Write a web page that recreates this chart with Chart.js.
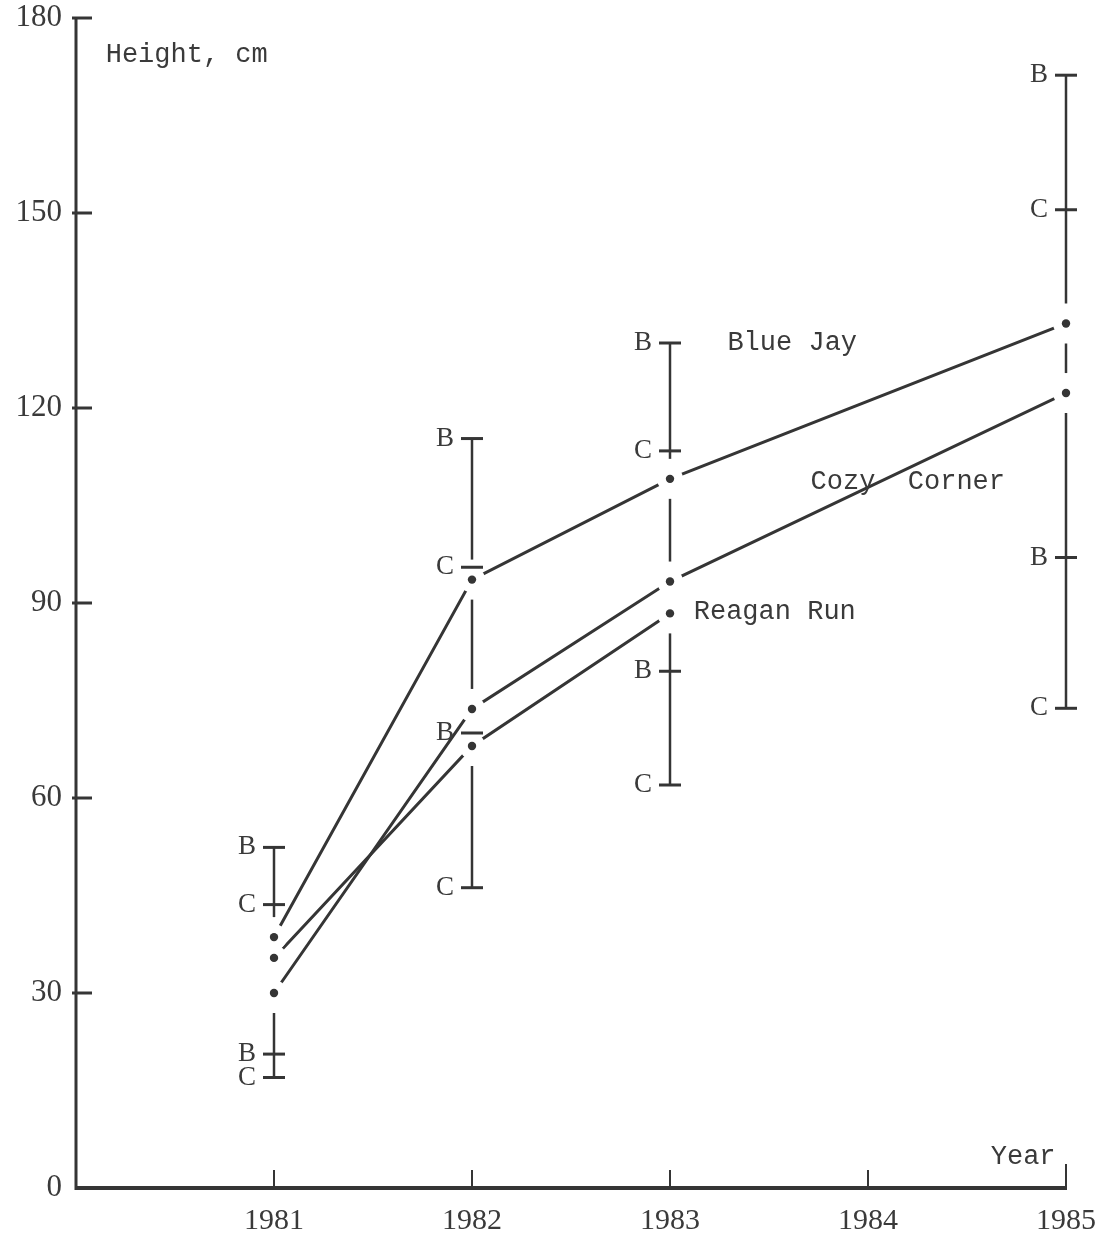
<!DOCTYPE html>
<html>
<head>
<meta charset="utf-8">
<script src="https://cdn.jsdelivr.net/npm/chart.js@4/dist/chart.umd.min.js"></script>
<style>
  html, body { margin: 0; padding: 0; background: #ffffff; }
  #wrap { width: 1104px; height: 1238px; position: relative; }
</style>
</head>
<body>
<div id="wrap"><canvas id="c"></canvas></div>
<script>
// ---- data ----
const years = [1981, 1982, 1983, 1984, 1985];
const blueJay    = [38.6, 93.6, 109.1, null, 133.0];
const cozyCorner = [30.0, 73.7, 93.3, null, 122.3];
const reaganRun  = [35.4, 68.0, 88.4, null, null];

// range bars: B and C marks above and below the means
const barYears   = [1981, 1982, 1983, 1985];
const upperB     = [52.4, 115.3, 130.0, 171.2];
const upperC     = [43.6, 95.5, 113.4, 150.5];
const lowerB     = [20.6, 70.0, 79.5, 97.0];
const lowerC     = [17.0, 46.2, 62.0, 73.8];

const yTicks = [0, 30, 60, 90, 120, 150, 180];
const xTickLabels = ['1981', '1982', '1983', '1984', '1985'];

const INK = '#353535';
const MONO = '"Liberation Mono", "DejaVu Sans Mono", monospace';
const SERIF = '"Liberation Serif", "DejaVu Serif", serif';

function pts(arr) {
  return years.map((x, i) => ({ x: x, y: arr[i] })).filter(p => p.y !== null);
}

// annotation text placed in data coordinates
const notes = [
  { text: 'Height, cm',   x: 1980.15, y: 174.4 },
  { text: 'Blue Jay',     x: 1983.29, y: 130.0 },
  { text: 'Cozy  Corner', x: 1983.71, y: 108.6 },
  { text: 'Reagan Run',   x: 1983.12, y: 88.7 },
  { text: 'Year',         x: 1984.62, y: 4.8 }
];

const drawPlugin = {
  id: 'handDrawn',
  beforeDatasetsDraw(chart) {
    const ctx = chart.ctx, xs = chart.scales.x, ys = chart.scales.y;
    const area = chart.chartArea;
    ctx.save();
    ctx.strokeStyle = INK;
    ctx.lineCap = 'butt';
    // axes
    ctx.lineWidth = 3;
    ctx.beginPath();
    ctx.moveTo(area.left, ys.getPixelForValue(180) - 1);
    ctx.lineTo(area.left, ys.getPixelForValue(0) + 2);
    ctx.stroke();
    ctx.lineWidth = 4;
    ctx.beginPath();
    ctx.moveTo(area.left - 1, ys.getPixelForValue(0));
    ctx.lineTo(xs.getPixelForValue(1985) + 1, ys.getPixelForValue(0));
    ctx.stroke();
    // y ticks (inside)
    ctx.lineWidth = 3;
    yTicks.forEach(v => {
      if (v === 0) return;
      const py = ys.getPixelForValue(v);
      ctx.beginPath();
      ctx.moveTo(area.left - 4, py);
      ctx.lineTo(area.left + 16, py);
      ctx.stroke();
    });
    // x ticks (inside)
    ctx.lineWidth = 2;
    years.forEach(v => {
      const px = xs.getPixelForValue(v);
      const len = v === 1985 ? 24 : 18;
      ctx.beginPath();
      ctx.moveTo(px, ys.getPixelForValue(0));
      ctx.lineTo(px, ys.getPixelForValue(0) - len);
      ctx.stroke();
    });
    // range bars with gaps around means
    ctx.lineWidth = 2.5;
    const series = [blueJay, cozyCorner, reaganRun];
    barYears.forEach((yr, i) => {
      const px = xs.getPixelForValue(yr);
      const top = ys.getPixelForValue(upperB[i]);
      const bot = ys.getPixelForValue(lowerC[i]);
      const gaps = [];
      const yi = years.indexOf(yr);
      series.forEach(s => { if (s[yi] !== null) gaps.push(ys.getPixelForValue(s[yi])); });
      gaps.sort((a, b) => a - b);
      const G = 20;
      let cur = top;
      gaps.forEach(g => {
        if (g - G > cur) {
          ctx.beginPath(); ctx.moveTo(px, cur); ctx.lineTo(px, g - G); ctx.stroke();
        }
        cur = Math.max(cur, g + G);
      });
      if (cur < bot) {
        ctx.beginPath(); ctx.moveTo(px, cur); ctx.lineTo(px, bot); ctx.stroke();
      }
    });
    ctx.restore();
  },
  afterDatasetsDraw(chart) {
    const ctx = chart.ctx, xs = chart.scales.x, ys = chart.scales.y;
    ctx.save();
    // white halos so lines stop short of the dots
    const allPts = [];
    chart.data.datasets.forEach((ds, di) => {
      chart.getDatasetMeta(di).data.forEach(el => allPts.push([el.x, el.y]));
    });
    ctx.fillStyle = '#ffffff';
    allPts.forEach(([x, y]) => {
      ctx.beginPath(); ctx.arc(x, y, 13, 0, Math.PI * 2); ctx.fill();
    });
    // dots
    ctx.fillStyle = INK;
    allPts.forEach(([x, y]) => {
      ctx.beginPath(); ctx.arc(x, y, 4.2, 0, Math.PI * 2); ctx.fill();
    });
    // B / C marks on range bars
    ctx.strokeStyle = INK;
    ctx.lineWidth = 3;
    ctx.font = '27px ' + SERIF;
    ctx.textAlign = 'right';
    ctx.textBaseline = 'middle';
    barYears.forEach((yr, i) => {
      const px = xs.getPixelForValue(yr);
      const marks = [['B', upperB[i]], ['C', upperC[i]], ['B', lowerB[i]], ['C', lowerC[i]]];
      marks.forEach(([lab, v]) => {
        const py = ys.getPixelForValue(v);
        ctx.beginPath(); ctx.moveTo(px - 11, py); ctx.lineTo(px + 11, py); ctx.stroke();
        ctx.fillStyle = '#3a3a3a';
        ctx.fillText(lab, px - 18, py);
      });
    });
    // annotation labels
    ctx.font = '27px ' + MONO;
    ctx.textAlign = 'left';
    ctx.fillStyle = '#3a3a3a';
    notes.forEach(n => {
      ctx.fillText(n.text, xs.getPixelForValue(n.x), ys.getPixelForValue(n.y));
    });
    ctx.restore();
  }
};

const lineStyle = {
  showLine: true,
  borderColor: INK,
  borderWidth: 3,
  pointRadius: 0,
  pointHoverRadius: 0,
  fill: false,
  tension: 0
};

new Chart(document.getElementById('c'), {
  type: 'scatter',
  data: {
    datasets: [
      Object.assign({ label: 'Blue Jay', data: pts(blueJay) }, lineStyle),
      Object.assign({ label: 'Cozy Corner', data: pts(cozyCorner) }, lineStyle),
      Object.assign({ label: 'Reagan Run', data: pts(reaganRun) }, lineStyle)
    ]
  },
  options: {
    responsive: true,
    maintainAspectRatio: false,
    animation: false,
    events: [],
    layout: { padding: { top: 18, right: 38, left: 0, bottom: 0 } },
    plugins: { legend: { display: false }, tooltip: { enabled: false } },
    scales: {
      x: {
        type: 'linear',
        min: 1980, max: 1985,
        afterFit(scale) {
          scale.height = 50;
          scale.paddingLeft = 0; scale.paddingRight = 0;
        },
        afterBuildTicks(scale) {
          scale.ticks = [1980].concat(years).map(v => ({ value: v }));
        },
        grid: { display: false, drawTicks: false },
        border: { display: false },
        ticks: {
          autoSkip: false,
          maxRotation: 0,
          padding: 15,
          color: '#3a3a3a',
          font: { family: SERIF, size: 30 },
          callback(v) { const i = years.indexOf(v); return i >= 0 ? xTickLabels[i] : ''; }
        }
      },
      y: {
        type: 'linear',
        min: 0, max: 180,
        afterFit(scale) {
          scale.width = 76;
          scale.paddingTop = 0; scale.paddingBottom = 0;
        },
        afterBuildTicks(scale) { scale.ticks = yTicks.map(v => ({ value: v })); },
        grid: { display: false, drawTicks: false },
        border: { display: false },
        ticks: {
          padding: 14,
          color: '#3a3a3a',
          font: { family: SERIF, size: 31 }
        }
      }
    }
  },
  plugins: [drawPlugin]
});
</script>
</body>
</html>
